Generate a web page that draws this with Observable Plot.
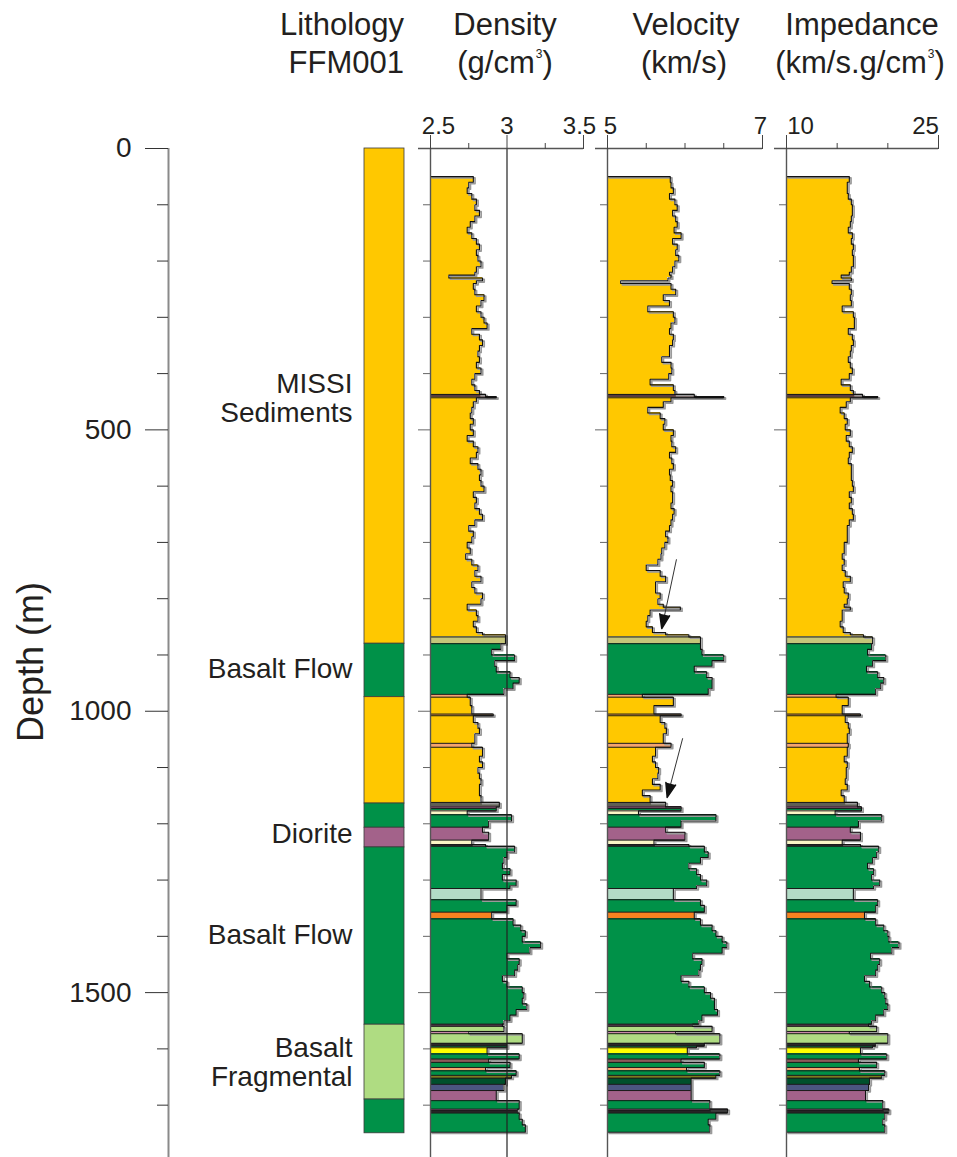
<!DOCTYPE html>
<html><head><meta charset="utf-8">
<script src="https://cdn.jsdelivr.net/npm/d3@7"></script>
<script src="https://cdn.jsdelivr.net/npm/@observablehq/plot@0.6"></script>
<style>
body{margin:0;background:#fff;}
#chart{position:relative;width:957px;height:1157px;overflow:hidden;font-family:"Liberation Sans",Arial,Helvetica,sans-serif;color:#231f20;}
#chart svg{position:absolute;left:0;top:0;}
.hd{position:absolute;font-size:31px;line-height:31px;white-space:nowrap;}
.sp{font-size:12px;position:relative;top:-15px;margin-left:1px;}
#ylab{position:absolute;left:-119px;top:644px;width:300px;height:36px;line-height:36px;font-size:36px;text-align:center;transform:rotate(-90deg);white-space:nowrap;}
</style></head><body><div id="chart"></div>
<script>
// ---------------- data ----------------
const depthMajor = [0, 500, 1000, 1500];
const depthMinor = [100,200,300,400,600,700,800,900,1100,1200,1300,1400,1600,1700];

const Y="#ffc800", G="#009148", PU="#a3628a", LG="#afdc82", OL="#c6c67a", DB="#5a3c3c",
      SA="#f5a46e", OR1="#f09a40", DG="#5f5f55", CR="#fbf6c6", DK="#2a2a2a", MI="#b2dcc6",
      OR="#f58220", DP="#4e3a48", PK="#c98aa8", YE="#ffff00", BR="#8c5a5a", OL2="#7c7c20",
      DKG="#00502c", SL="#4b5580";

// Lithology column
const lithBounds = [0, 880, 975, 1164, 1207, 1242, 1557, 1690, 1750];
const lithColors = [Y, G, Y, G, PU, G, LG, G];
const lithLabels = ["MISSI\nSediments", "Basalt Flow", "Diorite", "Basalt Flow", "Basalt\nFragmental"];
const lithLabelDepths = [443, 924, 1217, 1397, 1624];

// Log layers (depth tops, colours)
const layerTops = [50,437,443,868,880,970,975,1005,1008,1057,1064,1162,1170,1173,1177,1184,1206,1229,1237,1240,1315,1335,1357,1369,1556,1560,1569,1573,1590,1595,1598,1609,1618,1624,1633,1639,1647,1652,1663,1674,1692,1707,1710,1714];
const layerColors = [Y,DB,Y,OL,G,SA,Y,OR1,Y,SA,Y,DG,PU,G,CR,G,PU,CR,DK,G,MI,G,OR,G,DP,LG,PK,LG,DK,G,YE,G,BR,G,SA,G,OL2,DKG,SL,PU,G,PU,DK,G];

// Log sample boundaries (m)
const logBounds = [50,60,70,80,90,100,110,120,130,140,150,160,170,180,190,200,210,220,225,230,235,240,250,260,270,280,290,300,310,320,330,340,350,360,370,380,390,400,410,420,430,437,441,443,450,460,470,480,490,500,510,520,530,540,550,560,570,580,590,600,610,620,630,640,650,660,670,680,690,700,710,720,730,740,750,760,770,780,790,800,810,815,820,830,840,850,860,864,868,880,890,900,910,920,930,940,950,960,970,975,990,1005,1008,1020,1030,1040,1057,1064,1080,1090,1100,1110,1120,1130,1140,1150,1162,1170,1177,1184,1195,1206,1215,1229,1237,1240,1250,1260,1270,1280,1290,1300,1310,1315,1335,1345,1357,1369,1380,1390,1400,1410,1420,1430,1440,1450,1460,1470,1480,1490,1500,1510,1520,1530,1540,1550,1556,1560,1569,1573,1590,1595,1598,1609,1618,1624,1633,1639,1647,1652,1663,1674,1692,1707,1714,1725,1735,1748];

const density = [
2.78,2.75,2.74,2.77,2.80,2.79,2.82,2.79,2.76,2.74,
2.77,2.80,2.82,2.80,2.81,2.83,2.80,2.79,2.62,2.84,
2.80,2.78,2.79,2.85,2.83,2.80,2.83,2.85,2.87,2.77,
2.82,2.84,2.82,2.81,2.82,2.80,2.83,2.79,2.77,2.79,
2.82,2.86,2.93,2.80,2.78,2.77,2.76,2.78,2.76,2.78,
2.74,2.78,2.81,2.80,2.76,2.81,2.83,2.82,2.83,2.85,
2.78,2.80,2.79,2.82,2.84,2.79,2.75,2.78,2.77,2.74,
2.76,2.73,2.77,2.81,2.79,2.83,2.77,2.79,2.84,2.83,
2.74,2.74,2.80,2.81,2.78,2.80,2.84,2.99,2.99,2.96,2.90,3.05,
2.92,2.93,3.02,3.08,3.04,2.98,2.74,2.76,2.77,2.91,
2.78,2.81,2.82,2.79,2.77,2.84,2.82,2.84,2.81,2.82,
2.83,2.82,2.82,2.83,2.95,2.93,2.74,3.03,2.88,2.84,
2.88,2.77,2.86,3.05,3.00,2.98,2.97,3.02,2.97,3.06,
3.02,2.83,3.06,3.00,2.90,3.04,3.09,3.12,3.10,3.22,
3.15,3.00,3.08,3.07,3.05,2.97,3.00,3.10,3.11,3.10,
3.13,3.06,3.02,2.98,2.97,2.98,2.75,3.10,3.00,3.00,
2.87,3.08,2.88,3.02,2.86,3.06,3.03,2.99,2.98,2.93,
3.08,3.07,3.08,3.10,3.12];

const velocity = [
5.81,5.82,5.85,5.80,5.87,5.90,5.84,5.88,5.90,5.86,
5.95,5.84,5.90,5.88,5.92,5.87,5.84,5.80,5.82,5.78,
5.17,5.82,5.88,5.72,5.80,5.52,5.85,5.87,5.82,5.80,
5.85,5.84,5.80,5.80,5.70,5.82,5.83,5.79,5.55,5.85,
5.87,6.12,6.50,5.82,5.72,5.52,5.68,5.74,5.72,5.85,
5.82,5.83,5.88,5.80,5.83,5.85,5.80,5.81,5.84,5.82,
5.84,5.84,5.82,5.86,5.84,5.82,5.80,5.75,5.78,5.74,
5.70,5.69,5.65,5.50,5.68,5.75,5.62,5.62,5.68,5.65,
5.72,5.94,5.55,5.52,5.50,5.58,5.75,6.05,6.20,6.20,6.22,6.50,
6.35,6.12,6.28,6.35,6.35,6.30,5.45,5.85,5.60,5.95,
5.68,5.74,5.76,5.72,5.82,5.62,5.58,5.62,5.66,5.65,
5.58,5.68,5.45,5.55,5.75,5.95,5.40,6.40,5.95,5.75,
6.00,5.60,6.05,6.25,6.30,6.20,6.05,6.15,6.20,6.28,
6.15,5.85,6.20,6.25,6.12,6.20,6.35,6.40,6.48,6.54,
6.48,6.10,6.22,6.20,6.18,5.95,6.05,6.25,6.33,6.38,
6.38,6.42,6.22,6.18,6.10,6.35,5.88,6.45,6.25,6.15,
6.03,6.45,5.95,6.25,6.02,6.45,6.40,6.08,6.08,6.08,
6.32,6.55,6.40,6.30,6.32];

const impedance = [
16.2,16.0,16.0,16.1,16.4,16.5,16.5,16.4,16.3,16.1,
16.5,16.4,16.6,16.5,16.6,16.6,16.4,16.2,15.4,16.4,
14.5,16.2,16.4,16.3,16.4,15.5,16.6,16.7,16.7,16.1,
16.5,16.6,16.4,16.3,16.1,16.3,16.5,16.2,15.4,16.3,
16.6,17.5,19.0,16.3,15.9,15.3,15.7,16.0,15.8,16.3,
15.9,16.2,16.5,16.2,16.1,16.4,16.4,16.4,16.5,16.6,
16.2,16.4,16.2,16.5,16.6,16.2,16.0,16.0,16.0,15.7,
15.7,15.5,15.7,15.5,15.8,16.3,15.6,15.7,16.1,16.0,
15.7,16.3,15.5,15.5,15.3,15.6,16.3,17.6,18.5,18.4,18.0,19.8,
18.5,17.9,19.0,19.6,19.3,18.8,14.9,16.1,15.5,17.3,
15.8,16.1,16.2,16.0,16.1,16.0,15.7,16.0,15.9,15.9,
15.8,16.0,15.4,15.7,17.0,17.4,14.8,19.4,17.1,16.3,
17.3,15.5,17.3,19.1,18.9,18.5,18.0,18.6,18.4,19.2,
18.6,16.6,19.0,18.8,17.7,18.8,19.6,20.0,20.1,21.1,
20.4,18.3,19.2,19.0,18.8,17.7,18.2,19.4,19.7,19.8,
20.0,19.6,18.8,18.4,18.1,18.9,16.2,20.0,18.8,18.5,
17.3,19.9,17.1,18.9,17.2,19.7,19.4,18.2,18.1,17.8,
19.5,20.1,19.7,19.5,19.7];

// Track axes
const densityTicks = [2.5, 3, 3.5], densityMinor = [2.75, 3.25], densityTickLabels = ["2.5", "3", "3.5"];
const velocityTicks = [5, 7], velocityMinor = [5.5, 6, 6.5], velocityTickLabels = ["5", "7"];
const impedanceTicks = [10, 25], impedanceMinor = [15, 20], impedanceTickLabels = ["10", "25"];

// Arrows in the velocity track
const arrowFromVel = [5.89, 5.97], arrowFromDepth = [730, 1048];
const arrowToVel = [5.70, 5.77], arrowToDepth = [853, 1153];

// ---------------- layout ----------------
const FONT = "'Liberation Sans', Arial, Helvetica, sans-serif";
const W = 957, H = 1157, TOP = 148, DMAX = 1793;
const chart = document.getElementById("chart");

function makePlot(left, right, xDomain, marks) {
  return Plot.plot({
    width: W, height: H,
    marginTop: TOP, marginBottom: 0, marginLeft: left, marginRight: W - right,
    x: {domain: xDomain, axis: null},
    y: {domain: [0, DMAX], reverse: true, axis: null},
    style: {background: "transparent", fontFamily: FONT, fontSize: "24px", color: "#231f20", overflow: "visible"},
    marks
  });
}

// build pieces (log samples split at layer boundaries)
const segIndex = d => d3.bisectRight(logBounds, d) - 1;
const layerIndex = d => d3.bisectRight(layerTops, d) - 1;
const cuts = Array.from(new Set([...logBounds, ...layerTops]))
  .filter(d => d >= logBounds[0] && d <= logBounds[logBounds.length - 1])
  .sort((a, b) => a - b);
const pieces = [];
for (let i = 0; i < cuts.length - 1; i++) {
  const top = cuts[i], bottom = cuts[i + 1], mid = (top + bottom) / 2, s = segIndex(mid);
  pieces.push({top, bottom, color: layerColors[layerIndex(mid)],
    density: density[s], velocity: velocity[s], impedance: impedance[s]});
}
function stepPoints(vals, x0) {
  const pts = [{v: x0, d: logBounds[0]}];
  vals.forEach((v, i) => { pts.push({v, d: logBounds[i]}, {v, d: logBounds[i + 1]}); });
  pts.push({v: x0, d: logBounds[logBounds.length - 1]});
  return pts;
}
function boundaryRows(vals) {
  return layerTops.slice(1).map(b => ({d: b, v: Math.max(vals[segIndex(b - 0.01)], vals[segIndex(b + 0.01)])}));
}

// Depth axis
chart.append(makePlot(168, 169, [0, 1], [
  Plot.ruleX([0], {y1: 0, y2: DMAX, stroke: "#8a8a8a", strokeWidth: 2}),
  Plot.axisY({anchor: "left", ticks: depthMajor, tickSize: 23, tickPadding: 14, tickFormat: d => String(d), fontSize: 28, stroke: "#333"}),
  Plot.axisY({anchor: "left", ticks: depthMinor, tickSize: 11, tickFormat: () => "", stroke: "#333"})
]));

// Lithology column
const lith = lithColors.map((c, i) => ({y1: lithBounds[i], y2: lithBounds[i + 1], c}));
const lithText = lithLabels.map((t, i) => ({t, d: lithLabelDepths[i]}));
chart.append(makePlot(364, 404, [0, 1], [
  Plot.rect(lith, {x1: 0, x2: 1, y1: "y1", y2: "y2", fill: "c", stroke: "#3a3a3a", strokeWidth: 0.8}),
  Plot.text(lithText, {x: 0, y: "d", text: "t", textAnchor: "end", dx: -12, fontSize: 28, lineHeight: 1.04, fill: "#231f20"})
]));

// Tracks
const tracks = [
  {key: "density", vals: density, domain: [2.5, 3.5], left: 430, right: 583, major: densityTicks, minor: densityMinor, labels: densityTickLabels, dx: [8, 0, -4], grid: [3]},
  {key: "velocity", vals: velocity, domain: [5, 7], left: 607, right: 762, major: velocityTicks, minor: velocityMinor, labels: velocityTickLabels, dx: [3, -2], grid: []},
  {key: "impedance", vals: impedance, domain: [10, 25], left: 786, right: 938, major: impedanceTicks, minor: impedanceMinor, labels: impedanceTickLabels, dx: [14, -13], grid: []}
];
for (const t of tracks) {
  const x0 = t.domain[0], span = t.domain[1] - t.domain[0];
  const ext = span * 12 / (t.right - t.left);
  const pts = stepPoints(t.vals, x0);
  const marks = [
    Plot.rect(pieces, {x1: x0, x2: t.key, y1: "top", y2: "bottom", fill: "color", shapeRendering: "crispEdges"}),
    Plot.line(pts, {x: "v", y: "d", stroke: "#9a9a9a", strokeWidth: 1.7, dx: 1.7, dy: 1.3}),
    Plot.ruleY(boundaryRows(t.vals), {y: "d", x1: x0, x2: "v", stroke: "#1a1a1a", strokeWidth: 1}),
    Plot.line(pts, {x: "v", y: "d", stroke: "#111", strokeWidth: 1.1}),
    Plot.ruleX(t.grid, {y1: 0, y2: DMAX, stroke: "#222", strokeWidth: 1.2}),
    Plot.ruleX([x0], {y1: 0, y2: DMAX, stroke: "#555", strokeWidth: 1.4}),
    Plot.ruleY([0], {x1: x0 - ext, x2: t.domain[1], stroke: "#555", strokeWidth: 1.4}),
    Plot.axisX({anchor: "top", ticks: t.major, tickSize: 14, tickFormat: () => "", stroke: "#444"}),
    Plot.axisX({anchor: "top", ticks: t.minor, tickSize: 6, tickFormat: () => "", stroke: "#444"}),
    Plot.axisY({anchor: "left", ticks: depthMinor, tickSize: 7, tickFormat: () => "", stroke: "#666"}),
    Plot.axisY({anchor: "left", ticks: depthMajor.slice(1), tickSize: 12, tickFormat: () => "", stroke: "#666"}),
    ...t.major.map((v, i) => Plot.text([v], {x: d => d, y: 0, dy: -22, dx: t.dx[i], text: () => t.labels[i], fontSize: 24, fill: "#231f20"}))
  ];
  if (t.key === "velocity") {
    const sx = (t.right - t.left) / span, sy = (H - TOP) / DMAX;
    const arrows = arrowFromVel.map((v, i) => {
      const dxp = (arrowToVel[i] - v) * sx, dyp = (arrowToDepth[i] - arrowFromDepth[i]) * sy;
      return {x1: v, y1: arrowFromDepth[i], x2: arrowToVel[i], y2: arrowToDepth[i], rot: Math.atan2(dxp, -dyp) * 180 / Math.PI};
    });
    marks.push(
      Plot.link(arrows, {x1: "x1", y1: "y1", x2: "x2", y2: "y2", stroke: "#333", strokeWidth: 1}),
      Plot.vector(arrows, {x: "x2", y: "y2", rotate: "rot", length: 14, shape: "spike", r: 5, anchor: "end", fill: "#111", stroke: "#111"})
    );
  }
  chart.append(makePlot(t.left, t.right, t.domain, marks));
}

// Headers and axis title (HTML)
const hd = [
  {html: "Lithology", right: 553, top: 9},
  {html: "FFM001", right: 553, top: 47},
  {html: "Density", cx: 505, top: 9},
  {html: "(g/cm<span class='sp'>3</span>)", cx: 505, top: 47},
  {html: "Velocity", cx: 686, top: 9},
  {html: "(km/s)", cx: 684, top: 47},
  {html: "Impedance", cx: 862, top: 9},
  {html: "(km/s.g/cm<span class='sp'>3</span>)", cx: 860, top: 47}
];
for (const h of hd) {
  const el = document.createElement("div");
  el.className = "hd";
  el.innerHTML = h.html;
  el.style.top = h.top + "px";
  if (h.right !== undefined) { el.style.right = h.right + "px"; el.style.textAlign = "right"; }
  else { el.style.left = (h.cx - 150) + "px"; el.style.width = "300px"; el.style.textAlign = "center"; }
  chart.append(el);
}
const yl = document.createElement("div");
yl.id = "ylab"; yl.textContent = "Depth (m)";
chart.append(yl);
</script></body></html>
